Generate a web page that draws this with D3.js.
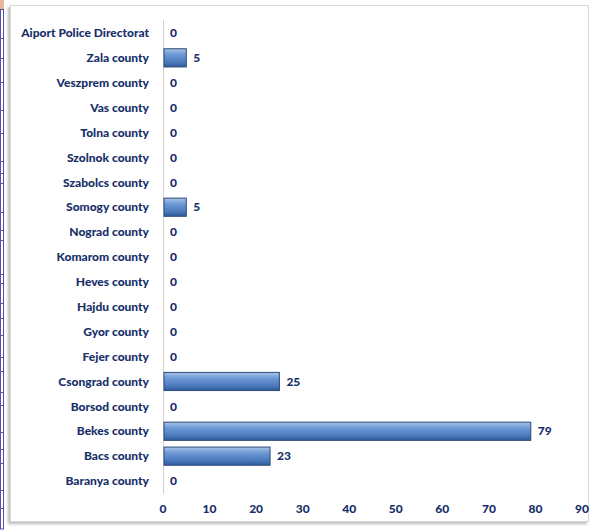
<!DOCTYPE html>
<html>
<head>
<meta charset="utf-8">
<script src="https://cdn.jsdelivr.net/npm/d3@7"></script>
<style>
  body { margin: 0; background: #fff; }
  text { font-family: Lato, "Open Sans", sans-serif; font-weight: 900; }
</style>
</head>
<body>
<div id="chart"></div>
<script>
// Categories, top to bottom
const categories = [
  'Aiport Police Directorat', 'Zala county', 'Veszprem county', 'Vas county',
  'Tolna county', 'Szolnok county', 'Szabolcs county', 'Somogy county',
  'Nograd county', 'Komarom county', 'Heves county', 'Hajdu county',
  'Gyor county', 'Fejer county', 'Csongrad county', 'Borsod county',
  'Bekes county', 'Bacs county', 'Baranya county'
];
const values = [0, 5, 0, 0, 0, 0, 0, 5, 0, 0, 0, 0, 0, 0, 25, 0, 79, 23, 0];
const xTicks = [0, 10, 20, 30, 40, 50, 60, 70, 80, 90];

const width = 591;
const height = 530;
const margin = { top: 20, left: 163, bottom: 36, right: 8 };
const textColor = '#17306a';

const svg = d3.select('#chart')
  .append('svg')
    .attr('width', width)
    .attr('height', height);

const defs = svg.append('defs');

// bar gradient (vertical)
const grad = defs.append('linearGradient')
  .attr('id', 'barGrad')
  .attr('x1', 0).attr('y1', 0).attr('x2', 0).attr('y2', 1);
grad.append('stop').attr('offset', '0%').attr('stop-color', '#a9c4e8');
grad.append('stop').attr('offset', '30%').attr('stop-color', '#6f9bd6');
grad.append('stop').attr('offset', '75%').attr('stop-color', '#4a78bd');
grad.append('stop').attr('offset', '100%').attr('stop-color', '#2f5a98');

// frame shadow
const shadow = defs.append('filter').attr('id', 'shadow')
  .attr('x', '-5%').attr('y', '-5%').attr('width', '110%').attr('height', '110%');
shadow.append('feDropShadow')
  .attr('dx', -2).attr('dy', 2).attr('stdDeviation', 1.5)
  .attr('flood-color', '#888').attr('flood-opacity', 0.6);

// left strip (cut table edge)
svg.append('rect')
  .attr('x', 0.5).attr('y', -1).attr('width', 3).attr('height', 530)
  .attr('fill', 'none').attr('stroke', '#5a4fa8').attr('stroke-width', 1);
svg.append('rect')
  .attr('x', 0).attr('y', 0).attr('width', 4).attr('height', 9)
  .attr('fill', '#e8b79a');
const stripLines = [9, 38, 58, 82, 110, 133, 161, 173, 183, 212, 230, 240, 274, 283, 303, 318, 335, 357, 371, 392, 405, 432, 449, 463, 490, 508];
svg.selectAll('.strip')
  .data(stripLines)
  .join('line')
    .attr('x1', 0).attr('x2', 4)
    .attr('y1', (d) => d + 0.5).attr('y2', (d) => d + 0.5)
    .attr('stroke', '#5a4fa8');

// chart frame
svg.append('rect')
  .attr('x', 10.5).attr('y', 5.5)
  .attr('width', 578).attr('height', 516)
  .attr('fill', '#fff')
  .attr('stroke', '#d9d9d9')
  .attr('filter', 'url(#shadow)');

// Scales
const xScale = d3.scaleLinear()
  .domain([0, 90])
  .range([margin.left, 582]);

const yScale = d3.scaleBand()
  .domain(categories)
  .range([20.5, 493.5])
  .paddingInner(0.27)
  .paddingOuter(0.135);

// Axis line
svg.append('line')
  .attr('x1', xScale(0) + 0.5).attr('x2', xScale(0) + 0.5)
  .attr('y1', 20).attr('y2', 494)
  .attr('stroke', '#d0d0d0');

// Category labels
svg.append('g')
  .selectAll('text')
  .data(categories)
  .join('text')
    .attr('x', 149)
    .attr('y', (d) => yScale(d) + yScale.bandwidth() / 2)
    .attr('dy', '0.35em')
    .attr('text-anchor', 'end')
    .attr('font-size', 12)
    .attr('fill', textColor)
    .text((d) => d);

// X tick labels
svg.append('g')
  .selectAll('text')
  .data(xTicks)
  .join('text')
    .attr('x', (d) => xScale(d))
    .attr('y', 509)
    .attr('dy', '0.35em')
    .attr('text-anchor', 'middle')
    .attr('font-size', 12)
    .attr('fill', textColor)
    .text((d) => d);

// Bars
const data = categories.map((c, i) => ({ label: c, value: values[i] }));
svg.append('g')
  .selectAll('rect')
  .data(data.filter((d) => d.value > 0))
  .join('rect')
    .attr('x', xScale(0) + 1)
    .attr('y', (d) => yScale(d.label))
    .attr('width', (d) => xScale(d.value) - xScale(0) - 1)
    .attr('height', yScale.bandwidth())
    .attr('fill', 'url(#barGrad)')
    .attr('stroke', '#2b4a78')
    .attr('stroke-width', 1);

// Value labels
svg.append('g')
  .selectAll('text')
  .data(data)
  .join('text')
    .attr('x', (d) => xScale(d.value) + 7)
    .attr('y', (d) => yScale(d.label) + yScale.bandwidth() / 2)
    .attr('dy', '0.35em')
    .attr('font-size', 12)
    .attr('fill', textColor)
    .text((d) => d.value);
</script>
</body>
</html>
